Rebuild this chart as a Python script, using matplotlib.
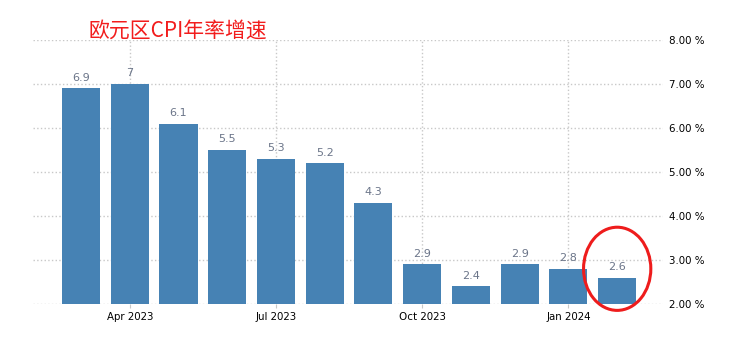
import matplotlib.pyplot as plt
from matplotlib.patches import Ellipse

plt.rcParams['font.family'] = ['Noto Sans CJK SC', 'DejaVu Sans']

# Euro area CPI, yoy %
months = ['Mar 2023', 'Apr 2023', 'May 2023', 'Jun 2023', 'Jul 2023', 'Aug 2023',
          'Sep 2023', 'Oct 2023', 'Nov 2023', 'Dec 2023', 'Jan 2024', 'Feb 2024']
cpi = [6.9, 7.0, 6.1, 5.5, 5.3, 5.2, 4.3, 2.9, 2.4, 2.9, 2.8, 2.6]
labels = ['6.9', '7', '6.1', '5.5', '5.3', '5.2', '4.3', '2.9', '2.4', '2.9', '2.8', '2.6']
tick_months = ['Apr 2023', 'Jul 2023', 'Oct 2023', 'Jan 2024']
yticks = [2, 3, 4, 5, 6, 7, 8]

fig = plt.figure(figsize=(7.49, 3.39), dpi=100)
ax = fig.add_axes([33 / 749, 1 - 304 / 339, 630 / 749, 264 / 339])

x = list(range(len(months)))
ax.bar(x, [v - 2 for v in cpi], bottom=2, width=0.78, color='#4682b4', zorder=2)

for xi, v, lab in zip(x, cpi, labels):
    ax.annotate(lab, (xi, v), xytext=(0, 4), textcoords='offset points',
                ha='center', va='bottom', fontsize=8, color='#6b7589',
                family='DejaVu Sans')

ax.set_xlim(-0.985, 11.94)
ax.set_ylim(2, 8)

tick_pos = [months.index(m) for m in tick_months]
ax.set_xticks(tick_pos)
ax.set_xticklabels(tick_months, family='DejaVu Sans', fontsize=7.4, color='black')
ax.tick_params(axis='x', length=3, color='#c8c8c8', pad=3)

ax.yaxis.tick_right()
ax.set_yticks(yticks)
ax.set_yticklabels(['%.2f %%' % t for t in yticks], family='DejaVu Sans', fontsize=7.4)
ax.tick_params(axis='y', length=0, pad=4)

ax.grid(True, linestyle=':', color='#c8c8c8', linewidth=1, zorder=0)
ax.set_axisbelow(True)
for s in ax.spines.values():
    s.set_visible(False)

# red circle around the latest value
ax.add_patch(Ellipse((x[-1], cpi[-1] + 0.2), 1.38, 1.89, fill=False,
                     edgecolor='#ee1c1c', linewidth=2.2, clip_on=False, zorder=3))

fig.text(88 / 749, 1 - 31 / 339, '欧元区CPI年率增速', color='#f21d1d', fontsize=15,
         ha='left', va='center')

fig.savefig('out.png', dpi=100)
